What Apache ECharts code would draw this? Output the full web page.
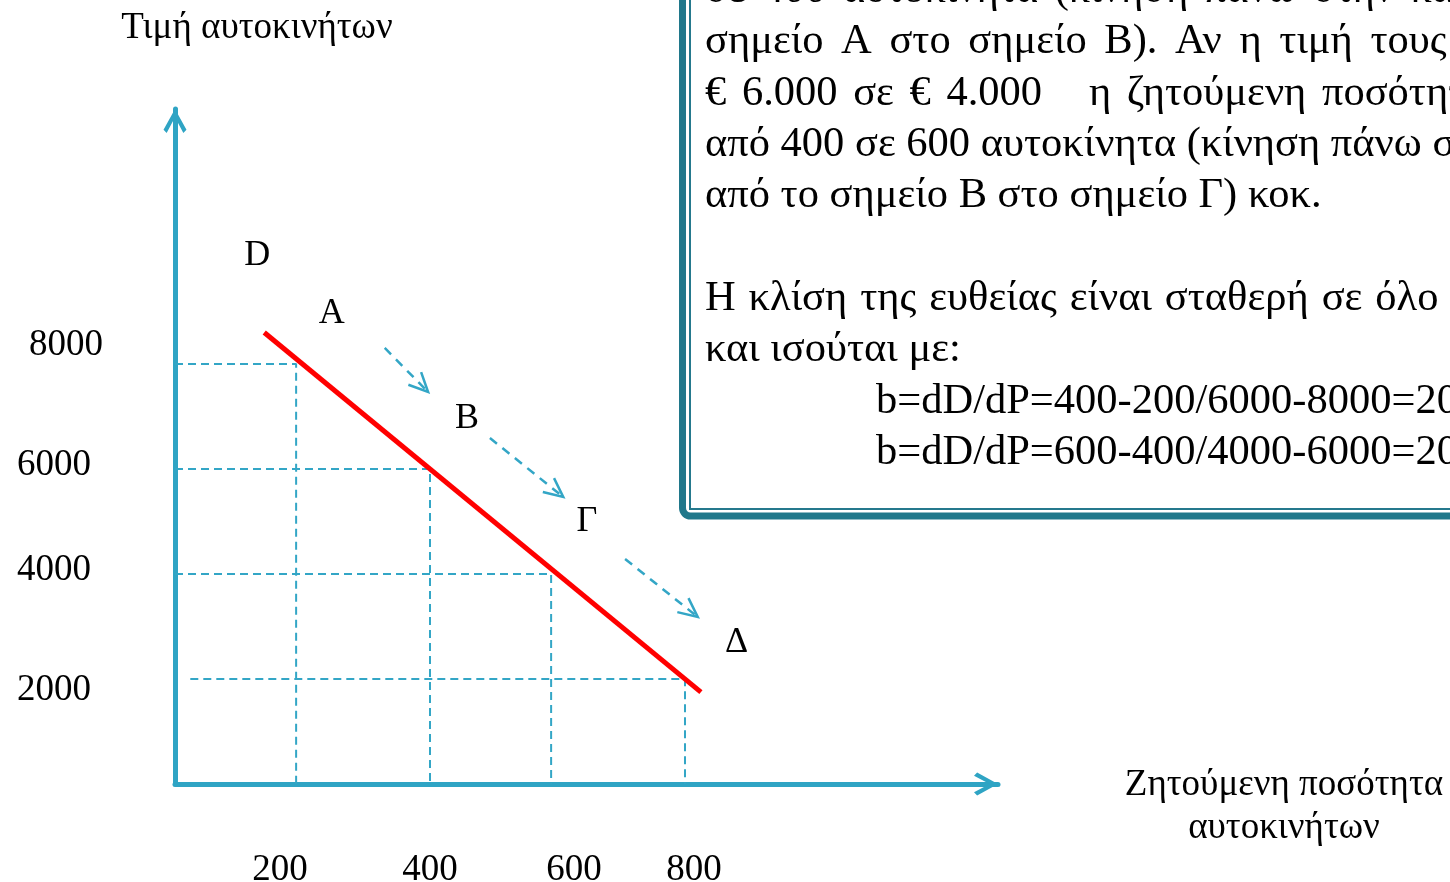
<!DOCTYPE html>
<html><head><meta charset="utf-8">
<script src="https://cdn.jsdelivr.net/npm/echarts@6/dist/echarts.min.js"></script>
<style>html,body{margin:0;padding:0;background:#fff}#c{width:1450px;height:882px}</style>
</head><body><div id="c"></div>
<script>
// ---------- data (axis units: quantity of cars, price in €) ----------
const demandLine = [[140, 8600], [825, 1750]];
const guideQ = [190, 400, 590, 800];
const guideP = [8000, 6000, 4000, 2000];
const guideStartQ = [0, 0, 0, 24];
const moveArrows = [[329, 8305, 397, 7467], [494, 6590, 609, 5467], [706, 4286, 820, 3181]];
const pointNames = ['D', 'A', 'B', 'Γ', 'Δ'];
const pointLabelQ = [129, 246, 458, 646, 881];
const pointLabelP = [10060, 8970, 6970, 4990, 2690];
const xTickLabels = ['200', '400', '600', '800'];
const yTickLabels = ['2000', '4000', '6000', '8000'];
const yTitle = 'Τιμή αυτοκινήτων';
const xTitle = ['Ζητούμενη ποσότητα', 'αυτοκινήτων'];
const boxLines = [
  'σε 400 αυτοκίνητα (κίνηση πάνω στην καμπύλη από το',
  'σημείο Α στο σημείο Β). Αν η τιμή τους μειωθεί από',
  '€ 6.000 σε € 4.000   η ζητούμενη ποσότητα αυξάνεται',
  'από 400 σε 600 αυτοκίνητα (κίνηση πάνω στην καμπύλη',
  'από το σημείο Β στο σημείο Γ) κοκ.',
  '',
  'Η κλίση της ευθείας είναι σταθερή σε όλο το μήκος της',
  'και ισούται με:',
  'b=dD/dP=400-200/6000-8000=200/-2000=-0,1',
  'b=dD/dP=600-400/4000-6000=200/-2000=-0,1'
];

// ---------- styles / layout ----------
const AX = '#2FA4C4', DASH = '#33A6C6', SERIF = '"Liberation Serif", "DejaVu Serif", serif';
const BOX_FONT = '42.5px ' + SERIF;
const lineExtraSpace = [6, 7, 5, 0, 0, 0, 2.3, 0, 0, 0];   // justification gap per space (px)
const chart = echarts.init(document.getElementById('c'));

const xRich = {
  t200: { padding: [0, 45, 0, 0] }, t400: {}, t600: { padding: [0, 0, 0, 33] }, t800: { padding: [0, 0, 0, 18] }
};
const yRich = {
  t8000: { padding: [0, 0, 38, 0] }, t6000: { padding: [0, 12, 8, 0] },
  t4000: { padding: [0, 12, 8, 0] }, t2000: { padding: [22, 12, 0, 0] }
};
const arrowPath = 'path://M11,0 L22,20 L19,23 L11,8 L3,23 L0,20 Z';

const series = [];
guideQ.forEach((q, i) => {
  series.push({
    type: 'line', symbol: 'none', silent: true,
    data: [[guideStartQ[i], guideP[i]], [q, guideP[i]], [q, 0]],
    lineStyle: { color: DASH, width: 2, type: [8, 5] }, z: 2
  });
});
series.push({
  type: 'line', symbol: 'none', data: demandLine,
  lineStyle: { color: '#FF0000', width: 5 }, z: 5
});
series.push({
  type: 'custom', data: moveArrows, encode: { x: [0, 2], y: [1, 3] }, z: 4,
  renderItem(params, api) {
    const p1 = api.coord([api.value(0), api.value(1)]);
    const p2 = api.coord([api.value(2), api.value(3)]);
    const ang = Math.atan2(p2[1] - p1[1], p2[0] - p1[0]);
    const L = 21, s = 0.44;
    const a1 = [p2[0] - L * Math.cos(ang - s), p2[1] - L * Math.sin(ang - s)];
    const a2 = [p2[0] - L * Math.cos(ang + s), p2[1] - L * Math.sin(ang + s)];
    return { type: 'group', children: [
      { type: 'line', shape: { x1: p1[0], y1: p1[1], x2: p2[0] - 3 * Math.cos(ang), y2: p2[1] - 3 * Math.sin(ang) },
        style: { stroke: DASH, lineWidth: 2.5, lineDash: [9, 7] } },
      { type: 'polyline', shape: { points: [a1, p2, a2] }, style: { stroke: DASH, lineWidth: 2.5, fill: null } }
    ] };
  }
});
series.push({
  type: 'custom', z: 6,
  data: pointNames.map((n, i) => [pointLabelQ[i], pointLabelP[i], i]),
  encode: { x: 0, y: 1 },
  renderItem(params, api) {
    const p = api.coord([api.value(0), api.value(1)]);
    return { type: 'text', x: p[0], y: p[1],
      style: { text: pointNames[api.value(2)], fill: '#000', font: '36px ' + SERIF,
        textAlign: 'center', textVerticalAlign: 'middle' } };
  }
});

const graphic = [
  { type: 'rect', shape: { x: 682.5, y: -30, width: 900, height: 546, r: 8 },
    style: { fill: '#fff', stroke: '#20788B', lineWidth: 7 }, z: 1 },
  { type: 'rect', shape: { x: 690, y: -30, width: 900, height: 539 },
    style: { fill: null, stroke: '#25798D', lineWidth: 2 }, z: 1 },
  { type: 'text', x: 257, y: 28, style: { text: yTitle, font: '37px ' + SERIF, fill: '#000',
      textAlign: 'center', textVerticalAlign: 'middle' } },
  { type: 'text', x: 1284, y: 807, style: { text: xTitle.join('\n'), font: '37px ' + SERIF, lineHeight: 43,
      fill: '#000', textAlign: 'center', textVerticalAlign: 'middle' } }
];
const mctx = document.createElement('canvas').getContext('2d');
mctx.font = BOX_FONT;
const spaceW = mctx.measureText(' ').width;
const lineY0 = -9, lineStep = 51.3;
boxLines.forEach((t, i) => {
  if (!t) return;
  const y = lineY0 + i * lineStep;
  let x = t.startsWith('b=') ? 876 : 705;
  const extra = lineExtraSpace[i];
  if (!extra) {
    graphic.push({ type: 'text', x: x, y: y, z: 3,
      style: { text: t, font: BOX_FONT, fill: '#000', textVerticalAlign: 'middle' } });
    return;
  }
  t.split(' ').forEach(w => {
    if (w) {
      graphic.push({ type: 'text', x: x, y: y, z: 3,
        style: { text: w, font: BOX_FONT, fill: '#000', textVerticalAlign: 'middle' } });
      x += mctx.measureText(w).width;
    }
    x += spaceW + extra;
  });
});

chart.setOption({
  backgroundColor: '#fff',
  animation: false,
  grid: { left: 175, right: 452, top: 109, bottom: 98, outerBoundsMode: 'none', containLabel: false },
  xAxis: {
    type: 'value', min: 0, max: 1291, interval: 200,
    splitLine: { show: false }, axisTick: { show: false },
    axisLine: { show: true, onZero: false, lineStyle: { color: AX, width: 5 },
      symbol: ['none', arrowPath], symbolSize: [24, 24], symbolOffset: [0, -12] },
    axisLabel: { margin: 66, color: '#000', fontFamily: SERIF, fontSize: 37, lineHeight: 40, rich: xRich,
      formatter: v => xTickLabels.includes(String(v)) ? '{t' + v + '|' + v + '}' : '' }
  },
  yAxis: {
    type: 'value', min: 0, max: 12857, interval: 2000,
    splitLine: { show: false }, axisTick: { show: false },
    axisLine: { show: true, onZero: false, lineStyle: { color: AX, width: 5 },
      symbol: ['none', arrowPath], symbolSize: [24, 24], symbolOffset: [0, -12] },
    axisLabel: { margin: 72, color: '#000', fontFamily: SERIF, fontSize: 37, lineHeight: 40, rich: yRich,
      formatter: v => yTickLabels.includes(String(v)) ? '{t' + v + '|' + v + '}' : '' }
  },
  series: series,
  graphic: graphic
});
</script></body></html>
